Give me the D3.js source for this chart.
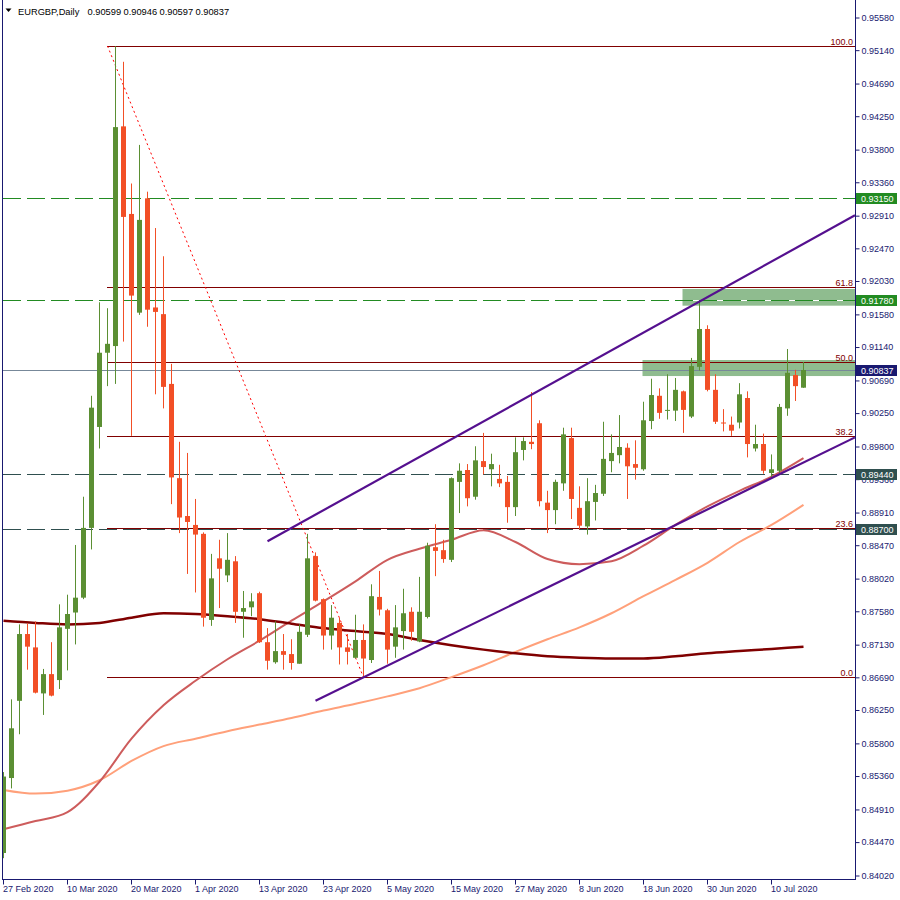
<!DOCTYPE html>
<html><head><meta charset="utf-8">
<script src="https://cdn.jsdelivr.net/npm/d3@7"></script>
<style>
body{margin:0;background:#fff}
svg{display:block}
text{font-family:"Liberation Sans",Arial,sans-serif;font-size:9px}
</style>
</head><body>
<svg id="c" width="900" height="900"></svg>
<script>
// ---------------- data ----------------
const symbolTitle = "EURGBP,Daily";
const lastQuote = ["0.90599", "0.90946", "0.90597", "0.90837"];

const open = [0.8433,0.8534,0.8638,0.8728,0.8710,0.8648,0.8674,0.8666,0.8735,0.8757,
0.8777,0.8871,0.9007,0.9107,0.9116,0.9412,0.9294,0.9161,0.9315,0.9168,
0.9159,0.9065,0.8938,0.8887,0.8875,0.8863,0.8747,0.8830,0.8807,0.8826,
0.8758,0.8764,0.8783,0.8717,0.8690,0.8705,0.8701,0.8688,0.8727,0.8833,
0.8775,0.8726,0.8743,0.8710,0.8696,0.8720,0.8693,0.8778,0.8760,0.8711,
0.8732,0.8758,0.8718,0.8751,0.8845,0.8841,0.8828,0.8933,0.8949,0.8913,
0.8961,0.8950,0.8937,0.8933,0.8899,0.8976,0.8987,0.9012,0.8905,0.8895,
0.8931,0.8992,0.8898,0.8873,0.8906,0.8917,0.8961,0.8969,0.8979,0.8957,
0.8950,0.9015,0.9049,0.9029,0.9029,0.9055,0.9021,0.9088,0.9139,0.9057,
0.9013,0.9010,0.9013,0.9046,0.8978,0.8984,0.8945,0.8948,0.9032,0.9077,
0.90599];
const high = [0.8542,0.8640,0.8741,0.8742,0.8745,0.8681,0.8717,0.8768,0.8781,0.8848,
0.8913,0.9049,0.9175,0.9167,0.9520,0.9499,0.9335,0.9387,0.9324,0.9275,
0.9237,0.9092,0.8987,0.8972,0.8910,0.8865,0.8836,0.8855,0.8864,0.8833,
0.8786,0.8783,0.8785,0.8736,0.8745,0.8728,0.8721,0.8741,0.8863,0.8838,
0.8776,0.8767,0.8750,0.8728,0.8754,0.8741,0.8795,0.8813,0.8762,0.8767,
0.8789,0.8764,0.8805,0.8851,0.8876,0.8855,0.8939,0.8958,0.8957,0.8981,
0.8999,0.8971,0.8956,0.8941,0.8993,0.8993,0.9054,0.9016,0.8921,0.8936,
0.9006,0.9006,0.8927,0.8938,0.8929,0.9014,0.8997,0.9023,0.8985,0.8989,
0.9041,0.9072,0.9059,0.9078,0.9073,0.9056,0.9100,0.9177,0.9144,0.9078,
0.9031,0.9021,0.9066,0.9055,0.9010,0.8998,0.8970,0.9038,0.9112,0.9084,
0.90946];
const low = [0.8426,0.8520,0.8593,0.8680,0.8648,0.8619,0.8644,0.8654,0.8679,0.8714,
0.8775,0.8842,0.8978,0.9062,0.9065,0.9122,0.8995,0.9158,0.9142,0.9051,
0.9032,0.8903,0.8864,0.8809,0.8784,0.8738,0.8739,0.8763,0.8798,0.8743,
0.8723,0.8752,0.8716,0.8680,0.8688,0.8680,0.8680,0.8688,0.8724,0.8772,
0.8707,0.8707,0.8687,0.8687,0.8695,0.8670,0.8689,0.8753,0.8688,0.8696,
0.8707,0.8719,0.8717,0.8749,0.8806,0.8824,0.8825,0.8891,0.8900,0.8909,
0.8943,0.8927,0.8926,0.8878,0.8887,0.8962,0.8977,0.8900,0.8864,0.8876,
0.8921,0.8883,0.8869,0.8862,0.8881,0.8914,0.8946,0.8958,0.8910,0.8936,
0.8948,0.9004,0.9018,0.9017,0.9015,0.8999,0.9019,0.9083,0.9055,0.9011,
0.9001,0.8995,0.9005,0.8966,0.8974,0.8944,0.8937,0.8945,0.9022,0.9042,
0.90597];
const close = [0.8536,0.8601,0.8728,0.8711,0.8649,0.8674,0.8645,0.8737,0.8755,0.8777,
0.8871,0.9033,0.9107,0.9119,0.9411,0.9290,0.9184,0.9286,0.9165,0.9162,
0.9061,0.8939,0.8885,0.8879,0.8862,0.8750,0.8803,0.8816,0.8828,0.8758,
0.8763,0.8772,0.8717,0.8692,0.8705,0.8700,0.8689,0.8731,0.8830,0.8773,
0.8726,0.8750,0.8710,0.8704,0.8720,0.8695,0.8779,0.8761,0.8707,0.8737,
0.8756,0.8731,0.8758,0.8847,0.8840,0.8829,0.8938,0.8948,0.8911,0.8962,
0.8953,0.8957,0.8931,0.8899,0.8973,0.8988,0.8984,0.8907,0.8895,0.8933,
0.8997,0.8910,0.8874,0.8907,0.8918,0.8964,0.8972,0.8980,0.8954,0.8952,
0.9016,0.9050,0.9026,0.9030,0.9057,0.9030,0.9089,0.9139,0.9057,0.9014,
0.9012,0.9002,0.9051,0.8984,0.8984,0.8948,0.8950,0.9034,0.9080,0.9062,
0.90837];

const dateTickIndex = [0,8,16,24,32,40,48,56,64,72,80,88,96];
const dateTickLabels = ["27 Feb 2020","10 Mar 2020","20 Mar 2020","1 Apr 2020","13 Apr 2020",
  "23 Apr 2020","5 May 2020","15 May 2020","27 May 2020","8 Jun 2020","18 Jun 2020",
  "30 Jun 2020","10 Jul 2020"];

const priceTicks = [0.95580,0.95140,0.94690,0.94250,0.93800,0.93360,0.92910,0.92470,0.92030,
  0.91580,0.91140,0.90690,0.90250,0.89800,0.89360,0.88910,0.88470,0.88020,0.87580,0.87130,
  0.86690,0.86250,0.85800,0.85360,0.84910,0.84470,0.84020];

// moving averages sampled every 4 bars
const maIndex = [0,4,8,12,16,20,24,28,32,36,40,44,48,52,56,60,64,68,72,76,80,84,88,92,96,100];
const ma50 = [0.8465,0.8476,0.8488,0.8529,0.8587,0.8632,0.8665,0.8694,0.8719,0.8746,0.8772,0.8799,0.8828,
  0.8843,0.8855,0.8868,0.8852,0.8829,0.8822,0.8826,0.8847,0.8875,0.8900,0.8921,0.8940,0.8965];
const ma100 = [0.8518,0.8513,0.8517,0.8531,0.8557,0.8577,0.8587,0.8597,0.8606,0.8615,0.8625,0.8634,0.8644,
  0.8655,0.8670,0.8686,0.8704,0.8721,0.8737,0.8756,0.8779,0.8801,0.8824,0.8852,0.8875,0.8902];
const ma200 = [0.8746,0.8743,0.8741,0.8743,0.8750,0.8756,0.8755,0.8752,0.8748,0.8742,0.8736,0.8732,0.8728,
  0.8720,0.8713,0.8707,0.8702,0.8698,0.8696,0.8695,0.8695,0.8698,0.8702,0.8705,0.8708,0.8711];

// horizontal levels
const greenLevels = [0.93150, 0.91780];
const slateLevels = [0.89440, 0.88700];

// fibonacci retracement
const fibHigh = 0.95203, fibLow = 0.86697;
const fibStartIndex = 13, fibEndIndex = 45;
const fibLevels = [0, 23.6, 38.2, 50, 61.8, 100];

// zones
const zoneStartIndex = [85, 80];
const zoneTop = [0.91929, 0.90972];
const zoneBottom = [0.91704, 0.90756];

// channel trend lines (anchor index, price)
const upperChannelIndex = [33, 87], upperChannelPrice = [0.8853, 0.9176];
const lowerChannelIndex = [39, 96], lowerChannelPrice = [0.8638, 0.8938];

// ---------------- drawing ----------------
const LEFT = 3, RIGHT = 855, BOTTOM = 879;
const AXIS = "#191970";
const FONT = '"Liberation Sans",Arial,sans-serif';
const x = d3.scaleLinear().domain([0, 100]).range([3.5, 803.5]);
const y = d3.scaleLinear().domain([0.8402, 0.9558]).range([876, 18]);
const ry = v => Math.round(y(v)) + 0.5;

const svg = d3.select("#c");
svg.append("rect").attr("width", 900).attr("height", 900).attr("fill", "#fff");
svg.append("defs").append("clipPath").attr("id", "plot")
  .append("rect").attr("x", LEFT).attr("y", 0).attr("width", RIGHT - LEFT).attr("height", BOTTOM);
const g = svg.append("g").attr("clip-path", "url(#plot)");

// zones
zoneStartIndex.forEach((s, k) => {
  g.append("rect").attr("x", x(s) - 1).attr("y", y(zoneTop[k]))
    .attr("width", RIGHT - x(s) + 1).attr("height", y(zoneBottom[k]) - y(zoneTop[k]))
    .attr("fill", "#8fbc8f");
});

// dashed levels
function dashed(v, color) {
  const yy = ry(v);
  g.append("line").attr("x1", LEFT).attr("x2", RIGHT).attr("y1", yy).attr("y2", yy)
    .attr("stroke", "#fff").attr("stroke-width", 1);
  g.append("line").attr("x1", LEFT).attr("x2", RIGHT).attr("y1", yy).attr("y2", yy)
    .attr("stroke", color).attr("stroke-width", 1).attr("stroke-dasharray", "18,6");
}
greenLevels.forEach(v => dashed(v, "#228b22"));
slateLevels.forEach(v => dashed(v, "#2f4f4f"));

// current price line
const lastClose = close[close.length - 1];
g.append("line").attr("x1", LEFT).attr("x2", RIGHT).attr("y1", ry(lastClose)).attr("y2", ry(lastClose))
  .attr("stroke", "#778899").attr("stroke-width", 1);

// fib levels
fibLevels.forEach(L => {
  const p = fibLow + (fibHigh - fibLow) * L / 100;
  const yy = ry(p);
  g.append("line").attr("x1", x(fibStartIndex) - 0.5).attr("x2", RIGHT).attr("y1", yy).attr("y2", yy)
    .attr("stroke", "#800000").attr("stroke-width", 1);
});
g.append("line")
  .attr("x1", x(fibStartIndex)).attr("y1", y(fibHigh))
  .attr("x2", x(fibEndIndex)).attr("y2", y(fibLow))
  .attr("stroke", "#ff0000").attr("stroke-width", 1).attr("stroke-dasharray", "2,3");

// moving averages
const maLine = arr => d3.line().x((d, k) => x(maIndex[k])).y(d => y(d)).curve(d3.curveMonotoneX)(arr);
g.append("path").attr("d", maLine(ma100)).attr("fill", "none").attr("stroke", "#ffa07a").attr("stroke-width", 2);
g.append("path").attr("d", maLine(ma50)).attr("fill", "none").attr("stroke", "#cd5c5c").attr("stroke-width", 2);
g.append("path").attr("d", maLine(ma200)).attr("fill", "none").attr("stroke", "#800000").attr("stroke-width", 2.5);

// candles
const BULL = "#5b8f33", BEAR = "#f24f26";
const idx = d3.range(close.length);
const cg = g.append("g");
idx.forEach(i => {
  const up = close[i] >= open[i];
  const col = up ? BULL : BEAR;
  const xc = x(i);
  cg.append("line").attr("x1", xc).attr("x2", xc).attr("y1", y(high[i])).attr("y2", y(low[i]))
    .attr("stroke", col).attr("stroke-width", 1);
  const top = y(Math.max(open[i], close[i])), bot = y(Math.min(open[i], close[i]));
  cg.append("rect").attr("x", xc - 2.5).attr("width", 5)
    .attr("y", top).attr("height", Math.max(1, bot - top)).attr("fill", col);
});

// channel lines (rays to right edge)
function ray(ii, pp) {
  const slope = (pp[1] - pp[0]) / (ii[1] - ii[0]);
  const iEnd = x.invert(RIGHT);
  const pEnd = pp[0] + slope * (iEnd - ii[0]);
  g.append("line").attr("x1", x(ii[0])).attr("y1", y(pp[0])).attr("x2", RIGHT).attr("y2", y(pEnd))
    .attr("stroke", "#55108f").attr("stroke-width", 2.2);
}
ray(upperChannelIndex, upperChannelPrice);
ray(lowerChannelIndex, lowerChannelPrice);

// fib labels
fibLevels.forEach(L => {
  const p = fibLow + (fibHigh - fibLow) * L / 100;
  svg.append("text").attr("x", 853).attr("y", ry(p) - 2).attr("text-anchor", "end")
    .attr("fill", "#800000").text(L.toFixed(1));
});

// frame
svg.append("line").attr("x1", 2.5).attr("x2", 2.5).attr("y1", 0).attr("y2", BOTTOM + 0.5).attr("stroke", AXIS);
svg.append("line").attr("x1", RIGHT + 0.5).attr("x2", RIGHT + 0.5).attr("y1", 0).attr("y2", BOTTOM + 0.5).attr("stroke", AXIS);
svg.append("line").attr("x1", 2).attr("x2", RIGHT + 1).attr("y1", BOTTOM + 0.5).attr("y2", BOTTOM + 0.5).attr("stroke", AXIS);

// right axis
const yAxis = d3.axisRight(y).tickValues(priceTicks).tickSize(4).tickPadding(2)
  .tickFormat(d => d.toFixed(5)).offset(0);
const ya = svg.append("g").attr("transform", `translate(${RIGHT + 0.5},0)`).call(yAxis);
ya.select(".domain").remove();
ya.selectAll("line").attr("stroke", AXIS);
ya.selectAll("text").attr("fill", AXIS).style("font-family", FONT).style("font-size", "9px");

// bottom axis
const xAxis = d3.axisBottom(x).tickValues(dateTickIndex).tickSize(5).tickPadding(1)
  .tickFormat((d, k) => dateTickLabels[k]).offset(0);
const xa = svg.append("g").attr("transform", `translate(0,${BOTTOM + 0.5})`).call(xAxis);
xa.select(".domain").remove();
xa.selectAll("line").attr("stroke", AXIS);
xa.selectAll("text").attr("fill", AXIS).attr("text-anchor", "start").attr("x", -0.5)
  .style("font-family", FONT).style("font-size", "9px");

// price badges
function badge(v, bg) {
  const yy = Math.round(y(v));
  svg.append("rect").attr("x", 856).attr("y", yy - 5).attr("width", 41).attr("height", 11).attr("fill", bg);
  svg.append("text").attr("x", 861).attr("y", yy + 3.5).attr("fill", "#fff")
    .style("font-family", FONT).style("font-size", "9px").text(v.toFixed(5));
}
greenLevels.forEach(v => badge(v, "#228b22"));
slateLevels.forEach(v => badge(v, "#2f4f4f"));
badge(lastClose, "#191970");

// header
svg.append("path").attr("d", "M5.5,8.5 L11.5,8.5 L8.5,12 Z").attr("fill", "#000");
svg.append("text").attr("x", 18).attr("y", 14.5).attr("fill", "#000")
  .style("font-family", FONT).style("font-size", "9.3px").text(symbolTitle);
lastQuote.forEach((q, k) => {
  svg.append("text").attr("x", 87.5 + 36 * k).attr("y", 14.5).attr("fill", "#000")
    .style("font-family", FONT).style("font-size", "9.3px").text(q);
});
</script>
</body></html>
